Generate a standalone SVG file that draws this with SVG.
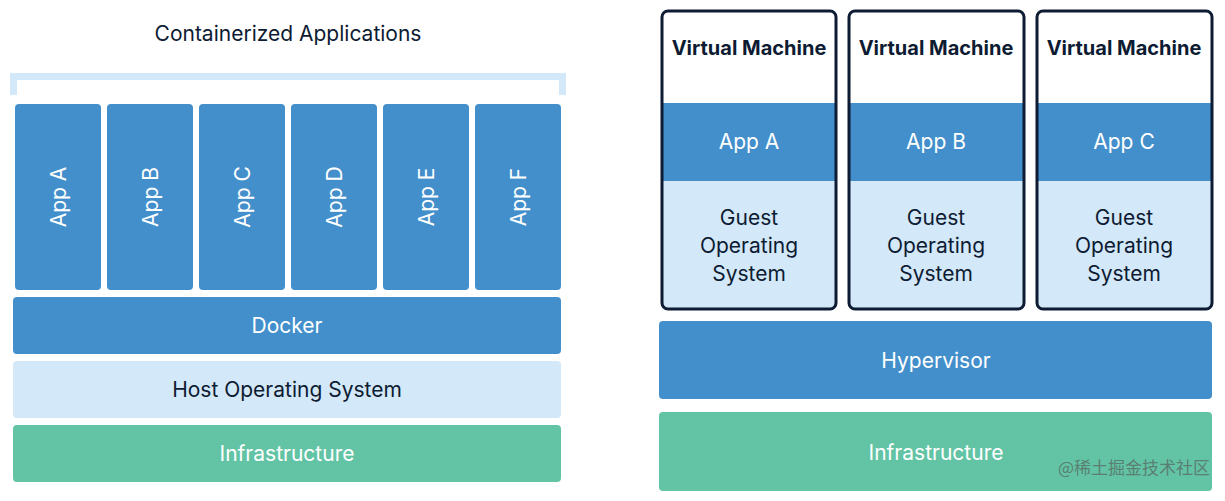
<svg xmlns="http://www.w3.org/2000/svg" width="1225" height="501" viewBox="0 0 1225 501">
<style>
.blue{fill:#438fcb}
.light{fill:#d3e8f8}
.green{fill:#62c4a5}
.t{font-family:Inter,"Noto Sans",sans-serif;font-size:21px;text-anchor:middle;dominant-baseline:central}
.w{fill:#ffffff}
.d{fill:#0d1b33}
.vm{fill:none;stroke:#0d1b33;stroke-width:3}
.b{font-weight:bold;font-size:20px}
</style>
<rect width="1225" height="501" fill="#ffffff"/>
<g id="title"><text class="t d" x="288" y="33">Containerized Applications</text></g>
<g id="bracket" fill="#d3e8f8">
<rect x="10" y="73" width="556" height="7"/>
<rect x="10" y="73" width="7" height="22"/>
<rect x="559" y="73" width="7" height="22"/>
</g>
<g id="appA"><rect class="blue" x="15" y="104" width="86" height="186" rx="4"/><text class="t w" transform="translate(58,197) rotate(-90)">App A</text></g>
<g id="appB"><rect class="blue" x="107" y="104" width="86" height="186" rx="4"/><text class="t w" transform="translate(150,197) rotate(-90)">App B</text></g>
<g id="appC"><rect class="blue" x="199" y="104" width="86" height="186" rx="4"/><text class="t w" transform="translate(242,197) rotate(-90)">App C</text></g>
<g id="appD"><rect class="blue" x="291" y="104" width="86" height="186" rx="4"/><text class="t w" transform="translate(334,197) rotate(-90)">App D</text></g>
<g id="appE"><rect class="blue" x="383" y="104" width="86" height="186" rx="4"/><text class="t w" transform="translate(426,197) rotate(-90)">App E</text></g>
<g id="appF"><rect class="blue" x="475" y="104" width="86" height="186" rx="4"/><text class="t w" transform="translate(518,197) rotate(-90)">App F</text></g>
<g id="docker"><rect class="blue" x="13" y="297" width="548" height="57" rx="4"/><text class="t w" x="287" y="325">Docker</text></g>
<g id="hostos"><rect class="light" x="13" y="361" width="548" height="57" rx="4"/><text class="t d" x="287" y="389">Host Operating System</text></g>
<g id="infra1"><rect class="green" x="13" y="425" width="548" height="57" rx="4"/><text class="t w" x="287" y="453">Infrastructure</text></g>

<g id="vm1">
<rect x="662" y="11" width="174" height="298" rx="6" fill="#ffffff"/>
<rect class="blue" x="662" y="103" width="174" height="78"/>
<rect class="light" x="662" y="181" width="174" height="127"/>
<rect class="vm" x="662" y="11" width="174" height="298" rx="6"/>
<text class="t d b" x="749" y="48">Virtual Machine</text>
<text class="t w" x="749" y="141">App A</text>
<text class="t d" x="749" y="217">Guest</text><text class="t d" x="749" y="245">Operating</text><text class="t d" x="749" y="273">System</text>
</g>
<g id="vm2">
<rect x="849" y="11" width="175" height="298" rx="6" fill="#ffffff"/>
<rect class="blue" x="849" y="103" width="175" height="78"/>
<rect class="light" x="849" y="181" width="175" height="127"/>
<rect class="vm" x="849" y="11" width="175" height="298" rx="6"/>
<text class="t d b" x="936" y="48">Virtual Machine</text>
<text class="t w" x="936" y="141">App B</text>
<text class="t d" x="936" y="217">Guest</text><text class="t d" x="936" y="245">Operating</text><text class="t d" x="936" y="273">System</text>
</g>
<g id="vm3">
<rect x="1037" y="11" width="175" height="298" rx="6" fill="#ffffff"/>
<rect class="blue" x="1037" y="103" width="175" height="78"/>
<rect class="light" x="1037" y="181" width="175" height="127"/>
<rect class="vm" x="1037" y="11" width="175" height="298" rx="6"/>
<text class="t d b" x="1124" y="48">Virtual Machine</text>
<text class="t w" x="1124" y="141">App C</text>
<text class="t d" x="1124" y="217">Guest</text><text class="t d" x="1124" y="245">Operating</text><text class="t d" x="1124" y="273">System</text>
</g>
<g id="hypervisor"><rect class="blue" x="659" y="321" width="553" height="78" rx="4"/><text class="t w" x="936" y="360">Hypervisor</text></g>
<g id="infra2"><rect class="green" x="659" y="412" width="553" height="79" rx="4"/><text class="t w" x="936" y="452">Infrastructure</text></g>
<g id="connectors"></g>
<text x="1210" y="474" font-family="'Noto Sans CJK SC',sans-serif" font-size="17" fill="#5a7f73" text-anchor="end">@稀土掘金技术社区</text>
</svg>
